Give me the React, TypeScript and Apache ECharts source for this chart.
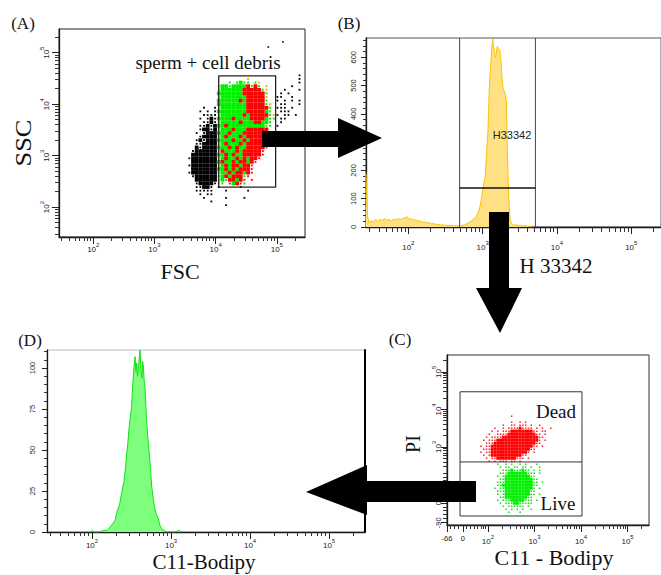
import { useEffect, useRef } from 'react';
import * as echarts from 'echarts';

// Decade exponents shown as 10^n tick labels on the log axes
const decadeLabels = [2, 3, 4, 5];

// ---------- (A) FSC / SSC dot plot ----------
// Binned event map in log10 units, one character per bin.
// K/k = black (dense/sparse), G/g = green, R/r = red, y = yellow events.
const aBinOrigin = [3.57, 4.63]; // log10 FSC of column 0, log10 SSC of row 0
const aBinStep = [0.06, 0.07];
const aEventRows = [
  '................................',
  '..............................k.',
  '................y.............k.',
  '...........g.gGgg.gy..........k.',
  '........yGGgGGGGRgRg.y......k...',
  '........yGGGGGGRRRRRgy....k...k.',
  '........GGGGGGGRRRRRRg...k.k....',
  '........yGGGGGGGRRRRRy..kk..k...',
  '........GGGGGGRGRRRRRg..k.k.k.k.',
  '........GGGGGGGGRRRRRgy..kk...k.',
  '....k..kyGGGGGGGRRRRRRg.kkk.k...',
  '...k.k.kGGGGGGGGRRRRRGg..kkk....',
  '....kkkkyGGGGGGRGRRRRRgyk.kk.k..',
  '...k.kKkGGGGRGGGGRRRRGgg.kk.....',
  '....kkKkyGGGGGRGGGRRGGg..k......',
  '...kkKkKGGRGGGGGGGGGGgg.k.......',
  '...kKKkKyGGGRGGGRRRRRR..........',
  '..k.kKKKGGGRGGGRRRRRRR..........',
  '...kKKKKyGRGGGRGRRRRRR..........',
  '..kKkKKKGGGGRGGRGRRRRR..........',
  '..kkKKKKyGRGGGRGRRRRRR..........',
  '..KkKKKKGGGRGRGGRRRRRr..........',
  '.kKKKKKKyRGGGRGRRRRRr...........',
  '.KKKKKKKGGRGRGGRRRRRr...........',
  'kKKKKKKKyGRGGRGRGRRr............',
  '.KKKKKKKGRGGRGRRGRr.............',
  'kKKKKKKKyGRGRRGRRr..............',
  '.KKKKKKKGGRGRGRRRr..............',
  'kKKKKKKKyGGRGRRGRr..............',
  '.kKKKKKKgGRGRRRgr...............',
  '..KKKKKKyGgRRGRr.r..............',
  '..kKKKKkyg.rGRrg................',
  '..kkKKk.k.....k.................',
  '..kkkkk...k.....k...............',
  '...k.kk.........................',
  '....k.....k....k................',
  '......k.........................',
  '..........k.....................',
];
const aOutlierFSC = [5.1, 4.86];
const aOutlierSSC = [5.21, 5.11];
const aGateFSC = [4.05, 4.98];
const aGateSSC = [2.39, 4.55];

// ---------- (B) H 33342 histogram ----------
const bLogChannel = [
  1.43, 1.44, 1.45, 1.47, 1.5, 1.53, 1.56, 1.59, 1.62, 1.65, 1.68, 1.71, 1.74, 1.77, 1.8, 1.83,
  1.86, 1.89, 1.92, 1.95, 1.98, 2.01, 2.04, 2.07, 2.1, 2.13, 2.16, 2.19, 2.22, 2.25, 2.28, 2.31,
  2.34, 2.37, 2.4, 2.43, 2.46, 2.49, 2.52, 2.55, 2.58, 2.61, 2.64, 2.67, 2.7, 2.73, 2.76, 2.79,
  2.82, 2.85, 2.88, 2.91, 2.94, 2.96, 2.98, 3.0, 3.02, 3.035, 3.05, 3.07, 3.08, 3.09, 3.1, 3.115,
  3.125, 3.136, 3.145, 3.16, 3.17, 3.18, 3.19, 3.2, 3.215, 3.23, 3.245, 3.255, 3.27, 3.28, 3.3,
  3.32, 3.33, 3.345, 3.36, 3.37, 3.39, 3.42, 3.45, 3.48, 3.51, 3.54, 3.57, 3.6, 3.63, 3.66,
];
const bCount = [
  190, 102, 40, 15, 22, 18, 26, 20, 28, 22, 30, 24, 27, 20, 28, 24,
  30, 26, 29, 33, 36, 27, 30, 24, 26, 20, 22, 17, 18, 14, 15, 11,
  12, 9, 10, 7, 8, 6, 6, 5, 6, 4, 5, 3, 4, 6, 8, 12,
  16, 22, 28, 36, 50, 68, 95, 130, 160, 178, 250, 332, 410, 492, 540, 600,
  640, 665, 640, 615, 600, 610, 630, 638, 630, 626, 590, 545, 500, 484, 476,
  445, 300, 141, 60, 25, 12, 6, 8, 4, 6, 3, 5, 3, 2, 0,
];
const bGateLog = [2.69, 3.71];
const bGateCount = 138;
const bCountTicks = [0, 100, 200, 300, 400, 500, 600];

// ---------- (D) C11-Bodipy histogram ----------
const dLogChannel = [
  1.99, 2.0, 2.02, 2.1, 2.15, 2.19, 2.23, 2.26, 2.29, 2.32, 2.35, 2.375, 2.405, 2.425, 2.44, 2.455,
  2.47, 2.485, 2.5, 2.51, 2.52, 2.53, 2.545, 2.555, 2.565, 2.575, 2.586, 2.597, 2.607, 2.618, 2.63,
  2.64, 2.65, 2.66, 2.67, 2.68, 2.69, 2.705, 2.725, 2.74, 2.755, 2.775, 2.8, 2.82, 2.84, 2.86, 2.88,
  2.91, 2.94, 3.05, 3.1, 3.13,
];
const dCount = [
  0, 1, 0, 0, 1, 1, 3, 5, 7, 13, 17, 24, 31, 40, 48, 55,
  64, 70, 76, 85, 93, 100, 107, 98, 103, 95, 99, 106, 111, 100, 94,
  104, 101, 92, 89, 78, 68, 58, 48, 38, 28, 20, 13, 10, 8, 4, 2,
  1, 0, 0, 1, 0,
];
const dCountTicks = [0, 25, 50, 75, 100];

// ---------- (C) C11-Bodipy / PI dot plot (biexponential display units) ----------
const cBinOrigin = [1.85, 3.9];
const cBinStep = [0.06, 0.08];
const cEventRows = [
  '............................',
  '...........r................',
  '............................',
  '...........r..r.r...........',
  '........r..rr.rrr.r..r......',
  '.....r..r.rrrrRrrrr.r.r..r..',
  '....r.r.rrrRRRRRRRRrr.rr....',
  '...r..rrrrRRRRRRRRRRrr.r....',
  '..r.rrrrRRRRRRRRRRRRRrr.....',
  '.r.rrrRRRRRRRRRRRRRRRr.r....',
  '..rrrRRRRRRRRRRRRRRRrr......',
  'r.rrRRRRRRRRRRRRRRRrr.r.....',
  '.rrrRRRRRRRRRRRRRRrr........',
  'r.rrRRRRRRRRRRRRRr.r........',
  '.r.rRRRRRRRRRRRrr...........',
  '..r.rrRRRRRRRrrr.r..........',
  '...r.r.rrr.rr.r.............',
  '......g..g.g..g.g...g.......',
  '.......g.gg.gg.gg.g..g......',
  '........gggGgggGgg.g.g......',
  '.......gggGGGGGGGggg.g......',
  '......g.gGGGGGGGGGgg........',
  '.......ggGGGGGGGGGGgg.......',
  '......gggGGGGGGGGGGgg.g.....',
  '......ggGGGGGGGGGGGgg.......',
  '.....g.ggGGGGGGGGGGg.g......',
  '......gggGGGGGGGGGgg........',
  '......g.gGGGGGGGGGgg.g......',
  '.......ggGGGGGGGGgg.........',
  '......g.gggGGGGGggg.g.......',
  '.......g.gggGGggggg.........',
  '........g.gggggg.g..........',
  '.........g.g.g.g..g.........',
  '..........g...g.............',
];
const cGateX = [1.4, 4.02];
const cGateY = [1.16, 4.47];
const cSplitY = 2.6;
const cXLabelValues = [1.12, 1.46, 2, 3, 4, 5];
const cXLinearTicks = [1.2, 1.28, 1.36, 1.54, 1.62, 1.7, 1.78, 1.85, 1.9, 1.95];
const cYLabelValues = [0.98, 1.5, 3, 4, 5];
const cYLinearTicks = [1.1, 1.2, 1.3, 1.4, 1.6, 1.7, 1.8, 1.9, 2.0, 2.1, 2.2];

const SANS = 'Liberation Sans';
const SERIF = 'Liberation Serif';

const tickRich = {
  b: { fontSize: 8, fontFamily: SANS, color: '#222', verticalAlign: 'bottom', lineHeight: 11 },
  s: { fontSize: 6, fontFamily: SANS, color: '#222', verticalAlign: 'top', lineHeight: 11 },
  t: { fontSize: 7.5, fontFamily: SANS, color: '#222' },
};
const pow10 = (v: number) => `{b|10}{s|${Math.round(v)}}`;
const plain = (v: number) => `{t|${v}}`;

// decade ticks and 2..9 sub-ticks of a log10 axis
function logTicks(min: number, max: number) {
  const majors: number[] = [];
  const minors: number[] = [];
  for (let d = Math.floor(min); d <= Math.ceil(max); d++) {
    for (let k = 1; k < 10; k++) {
      const v = d + Math.log10(k);
      if (v < min - 1e-9 || v > max + 1e-9) continue;
      (k === 1 ? majors : minors).push(v);
    }
  }
  return { majors, minors };
}

type AxisSpec = {
  dim: 'x' | 'y';
  grid: number;
  min: number;
  max: number;
  majors: number[];
  minors: number[];
  labels: number[];
  fmt: (v: number) => string;
  margin: number;
  rotate?: number;
  majorLen?: number;
  minorLen?: number;
  lineWidth?: number;
};

// main axis (line, major ticks, labels) plus an overlaid axis carrying the short ticks
function axisPair(s: AxisSpec) {
  const common = {
    type: 'value',
    gridIndex: s.grid,
    min: s.min,
    max: s.max,
    position: s.dim === 'x' ? 'bottom' : 'left',
    splitLine: { show: false },
  };
  const main = {
    ...common,
    axisLine: { show: true, onZero: false, lineStyle: { color: '#1a1a1a', width: s.lineWidth ?? 1.3 } },
    axisTick: { show: true, customValues: s.majors, length: s.majorLen ?? 6, lineStyle: { color: '#222', width: 1 } },
    axisLabel: {
      show: true,
      customValues: s.labels,
      formatter: s.fmt,
      rich: tickRich,
      margin: s.margin,
      rotate: s.rotate ?? 0,
      hideOverlap: false,
    },
  };
  const minor = {
    ...common,
    axisLine: { show: false, onZero: false },
    axisTick: { show: true, customValues: s.minors, length: s.minorLen ?? 3.5, lineStyle: { color: '#333', width: 1 } },
    axisLabel: { show: false },
  };
  return [main, minor];
}

function binnedEvents(rows: string[], origin: number[], step: number[], code: string) {
  const pts: number[][] = [];
  rows.forEach((row, i) => {
    for (let j = 0; j < row.length; j++) {
      if (row[j] === code) pts.push([origin[0] + j * step[0], origin[1] - i * step[1]]);
    }
  });
  return pts;
}

function eventSeries(
  rows: string[], origin: number[], step: number[], axis: number,
  codes: { code: string; color: string; size: number | number[] }[],
) {
  return codes.map((c) => ({
    type: 'scatter',
    xAxisIndex: axis,
    yAxisIndex: axis,
    symbol: 'rect',
    symbolSize: c.size,
    silent: true,
    itemStyle: { color: c.color, opacity: 1 },
    data: binnedEvents(rows, origin, step, c.code),
    z: 3,
  }));
}

function gateLine(axis: number, pts: number[][], color = '#2a2a2a', width = 1.2) {
  return {
    type: 'line',
    xAxisIndex: axis,
    yAxisIndex: axis,
    data: pts,
    symbol: 'none',
    silent: true,
    lineStyle: { color, width },
    z: 6,
  };
}

function label(text: string, x: number, y: number, size: number, opts: any = {}) {
  return {
    type: 'text',
    x,
    y,
    z: 110,
    rotation: opts.rotation ?? 0,
    scaleX: opts.scaleX ?? 1,
    style: {
      text,
      x: 0,
      y: 0,
      font: `${size}px "${opts.family ?? SERIF}"`,
      fill: opts.color ?? '#111',
      align: 'center',
      verticalAlign: 'middle',
      textAlign: 'center',
      textVerticalAlign: 'middle',
    },
  };
}

function arrow(points: number[][]) {
  return { type: 'polygon', z: 100, shape: { points }, style: { fill: '#000' } };
}

function buildOption() {
  const aX = logTicks(1.44, 5.46);
  const aY = logTicks(1.42, 5.46);
  const bX = logTicks(1.43, 5.4);
  const dX = logTicks(1.43, 5.455);
  const cX = logTicks(2, 5.46);
  const cY = logTicks(2, 5.45);

  const [ax0, ax1] = axisPair({ dim: 'x', grid: 0, min: 1.44, max: 5.46, majors: aX.majors, minors: aX.minors, labels: decadeLabels, fmt: pow10, margin: 5, majorLen: 7, minorLen: 4 });
  const [ay0, ay1] = axisPair({ dim: 'y', grid: 0, min: 1.42, max: 5.46, majors: aY.majors, minors: aY.minors, labels: decadeLabels, fmt: pow10, margin: 9, rotate: 90, majorLen: 7, minorLen: 4 });

  const bCountMinor: number[] = [];
  for (let v = 20; v < 668; v += 20) if (v % 100 !== 0) bCountMinor.push(v);
  const [bx0, bx1] = axisPair({ dim: 'x', grid: 1, min: 1.43, max: 5.4, majors: bX.majors, minors: bX.minors, labels: decadeLabels, fmt: pow10, margin: 13, majorLen: 7, minorLen: 5 });
  const [by0, by1] = axisPair({ dim: 'y', grid: 1, min: 0, max: 668, majors: bCountTicks, minors: bCountMinor, labels: bCountTicks, fmt: plain, margin: 9, rotate: 90, majorLen: 5, minorLen: 3 });

  const dCountMinor: number[] = [];
  for (let v = 5; v < 111; v += 5) if (v % 25 !== 0) dCountMinor.push(v);
  const [dx0, dx1] = axisPair({ dim: 'x', grid: 2, min: 1.43, max: 5.455, majors: dX.majors, minors: dX.minors, labels: decadeLabels, fmt: pow10, margin: 6, majorLen: 7, minorLen: 4 });
  const [dy0, dy1] = axisPair({ dim: 'y', grid: 2, min: 0, max: 111, majors: dCountTicks, minors: dCountMinor, labels: dCountTicks, fmt: plain, margin: 11, rotate: 90, majorLen: 5, minorLen: 3 });

  const cFmtX = (v: number) => (v < 1.3 ? '{t|-66}' : v < 1.9 ? '{t|0}' : pow10(v));
  const cFmtY = (v: number) => (v < 1.3 ? '{t|-90}' : v < 1.9 ? '{t|0}' : pow10(v));
  const [cx0, cx1] = axisPair({ dim: 'x', grid: 3, min: 1.12, max: 5.46, majors: cXLabelValues, minors: [...cXLinearTicks, ...cX.minors], labels: cXLabelValues, fmt: cFmtX, margin: 9, majorLen: 7, minorLen: 4 });
  const [cy0, cy1] = axisPair({ dim: 'y', grid: 3, min: 0.92, max: 5.45, majors: cYLabelValues, minors: [...cYLinearTicks, ...cY.minors], labels: cYLabelValues, fmt: cFmtY, margin: 5, rotate: 90, majorLen: 6, minorLen: 4 });

  const dRight = {
    type: 'value', gridIndex: 2, position: 'right', min: 0, max: 111,
    axisLine: { show: true, onZero: false, lineStyle: { color: '#000', width: 2 } },
    axisTick: { show: false }, axisLabel: { show: false }, splitLine: { show: false },
  };

  const aCodes = [
    { code: 'k', color: '#000000', size: 1.8 },
    { code: 'K', color: '#000000', size: [3.8, 3.7] },
    { code: 'g', color: '#10e010', size: 2 },
    { code: 'G', color: '#00f000', size: [3.8, 3.7] },
    { code: 'r', color: '#ff1a1a', size: 2 },
    { code: 'R', color: '#ff0000', size: [3.8, 3.7] },
    { code: 'y', color: '#ffb000', size: 2 },
  ];
  const cCodes = [
    { code: 'r', color: '#ff2020', size: 1.5 },
    { code: 'R', color: '#ff0000', size: [2.9, 3.1] },
    { code: 'g', color: '#10e010', size: 1.5 },
    { code: 'G', color: '#00f000', size: [2.9, 3.1] },
  ];

  const series: any[] = [
    ...eventSeries(aEventRows, aBinOrigin, aBinStep, 0, aCodes),
    {
      type: 'scatter', xAxisIndex: 0, yAxisIndex: 0, symbol: 'rect', symbolSize: 1.8, silent: true,
      itemStyle: { color: '#000' }, data: aOutlierFSC.map((x, i) => [x, aOutlierSSC[i]]),
    },
    gateLine(0, [
      [aGateFSC[0], aGateSSC[0]], [aGateFSC[0], aGateSSC[1]], [aGateFSC[1], aGateSSC[1]],
      [aGateFSC[1], aGateSSC[0]], [aGateFSC[0], aGateSSC[0]],
    ], '#222', 1.3),
    {
      type: 'line', xAxisIndex: 2, yAxisIndex: 2, symbol: 'none', silent: true,
      data: bLogChannel.map((x, i) => [x, bCount[i]]),
      lineStyle: { color: '#f6c400', width: 1 },
      areaStyle: { color: '#ffe184', opacity: 1 },
      z: 3,
    },
    gateLine(2, [[bGateLog[0], 0], [bGateLog[0], 668]], '#444', 1),
    gateLine(2, [[bGateLog[1], 0], [bGateLog[1], 668]], '#444', 1),
    gateLine(2, [[bGateLog[0], bGateCount], [bGateLog[1], bGateCount]], '#111', 1.5),
    {
      type: 'line', xAxisIndex: 4, yAxisIndex: 4, symbol: 'none', silent: true,
      data: dLogChannel.map((x, i) => [x, dCount[i]]),
      lineStyle: { color: '#12e012', width: 1 },
      areaStyle: { color: '#7dff7d', opacity: 1 },
      z: 3,
    },
    ...eventSeries(cEventRows, cBinOrigin, cBinStep, 6, cCodes),
    gateLine(6, [
      [cGateX[0], cGateY[0]], [cGateX[0], cGateY[1]], [cGateX[1], cGateY[1]],
      [cGateX[1], cGateY[0]], [cGateX[0], cGateY[0]],
    ], '#333', 1),
    gateLine(6, [[cGateX[0], cSplitY], [cGateX[1], cSplitY]], '#333', 1),
  ];

  return {
    animation: false,
    backgroundColor: '#ffffff',
    textStyle: { fontFamily: SANS },
    grid: [
      { left: 59, top: 29, width: 246, height: 208, show: true, borderColor: '#222', borderWidth: 1, backgroundColor: 'transparent' },
      { left: 366, top: 38, width: 300, height: 189, show: true, borderColor: '#555', borderWidth: 1, backgroundColor: 'transparent' },
      { left: 47, top: 350, width: 318, height: 182, show: true, borderColor: '#bbb', borderWidth: 1, backgroundColor: 'transparent' },
      { left: 447, top: 355, width: 202, height: 170, show: true, borderColor: '#333', borderWidth: 1, backgroundColor: 'transparent' },
    ],
    xAxis: [ax0, ax1, bx0, bx1, dx0, dx1, cx0, cx1],
    yAxis: [ay0, ay1, by0, by1, dy0, dy1, cy0, cy1, dRight],
    series,
    graphic: [
      arrow([[262, 131], [338, 131], [338, 118], [382, 138], [338, 158], [338, 147], [262, 147]]),
      arrow([[489, 212], [509, 212], [509, 288], [522, 288], [500, 333], [476, 288], [489, 288]]),
      arrow([[476, 481], [367, 481], [367, 465], [306, 492], [367, 515], [367, 502], [476, 502]]),
      label('(A)', 23, 23, 17),
      label('(B)', 349, 23, 17),
      label('(D)', 30, 340, 17),
      label('(C)', 400, 339, 17),
      label('sperm + cell debris', 208, 62, 19),
      label('SSC', 23, 143, 24, { rotation: Math.PI / 2, scaleX: 1.1 }),
      label('FSC', 180, 271, 22),
      label('H33342', 512, 135, 11, { family: SANS, color: '#222' }),
      label('H 33342', 556, 266, 21),
      label('C11-Bodipy', 204, 562, 21),
      label('C11 - Bodipy', 554, 557, 22),
      label('PI', 413, 444, 20, { rotation: Math.PI / 2 }),
      label('Dead', 556, 411, 19),
      label('Live', 558, 503, 19),
    ],
  };
}

export default function App() {
  const ref = useRef<HTMLDivElement>(null);
  useEffect(() => {
    if (!ref.current) return;
    const chart = echarts.init(ref.current, null, { renderer: 'svg' });
    chart.setOption(buildOption() as any);
    return () => chart.dispose();
  }, []);
  return (
    <div
      ref={ref}
      style={{ position: 'fixed', left: 0, top: 0, width: 661, height: 575, background: '#fff' }}
    />
  );
}
